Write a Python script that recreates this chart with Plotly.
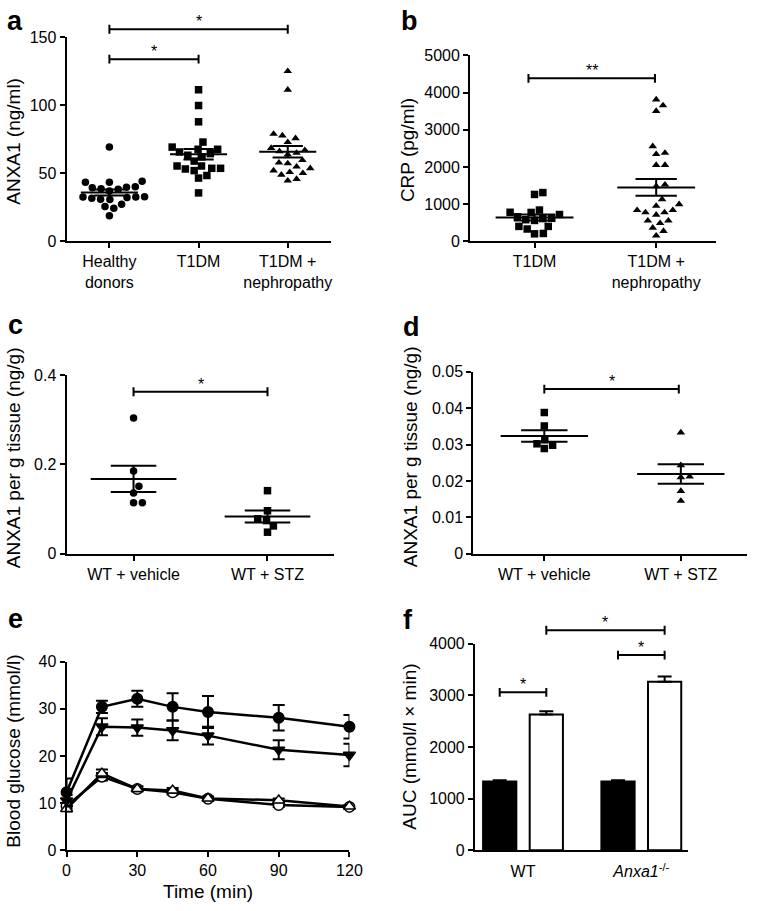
import numpy as np
import plotly.graph_objects as go

W, H = 763, 911
FONT = "Liberation Sans, Arial, Helvetica, sans-serif"

# ---------------- data ----------------
a_groups = ["Healthy<br>donors", "T1DM", "T1DM +<br>nephropathy"]
a_healthy = [69.3, 44.1, 43.4, 39.7, 38.7, 37.0, 38.3, 39.4, 40.2, 43.4, 32.5,
             31.6, 30.7, 32.2, 30.9, 32.5, 32.7, 25.5, 27.2, 24.3, 18.8]
a_t1dm = [111.5, 99.9, 87.9, 73.0, 67.7, 65.7, 64.5, 67.7, 69.3, 59.0, 62.1,
          63.3, 53.7, 52.0, 55.4, 55.4, 53.2, 53.7, 48.4, 46.5, 35.6]
a_neph = [125.2, 111.5, 79.0, 75.8, 77.8, 72.9, 68.6, 66.2, 65.0, 63.8, 67.0,
          59.7, 57.3, 53.7, 54.9, 57.8, 50.8, 48.9, 52.0, 50.1, 44.6, 45.8]

b_groups = ["T1DM", "T1DM +<br>nephropathy"]
b_t1dm = [1310, 1260, 840, 780, 720, 775, 660, 620, 580, 560, 610, 400, 330,
          400, 200, 210]
b_neph = [3812, 3654, 3503, 2553, 2342, 2376, 2051, 2051, 1478, 1523, 1127,
          995, 950, 837, 776, 837, 776, 713, 554, 486, 554, 362, 275, 150]

c_groups = ["WT + vehicle", "WT + STZ"]
c_vehicle = [0.304, 0.185, 0.151, 0.136, 0.114, 0.114]
c_stz = [0.141, 0.096, 0.078, 0.074, 0.062, 0.048]

d_groups = ["WT + vehicle", "WT + STZ"]
d_vehicle = [0.0388, 0.0351, 0.0313, 0.0302, 0.0298, 0.0289]
d_stz = [0.0333, 0.0243, 0.0212, 0.0210, 0.0172, 0.0145]

e_time = [0, 15, 30, 45, 60, 90, 120]
e_anxa1_stz = [12.3, 30.4, 32.1, 30.4, 29.3, 28.1, 26.2]
e_anxa1_stz_sem = [2.9, 1.3, 1.7, 2.9, 3.4, 2.7, 2.5]
e_wt_stz = [10.5, 26.2, 26.0, 25.4, 24.3, 21.3, 20.2]
e_wt_stz_sem = [1.2, 1.8, 1.7, 2.1, 1.9, 2.0, 2.4]
e_wt_veh = [9.4, 15.6, 13.0, 12.3, 10.9, 9.6, 9.2]
e_wt_veh_sem = [0.6, 0.8, 0.5, 0.5, 0.4, 0.4, 0.3]
e_anxa1_veh = [8.8, 16.3, 13.0, 12.7, 11.0, 10.6, 9.3]
e_anxa1_veh_sem = [0.6, 0.8, 0.5, 0.5, 0.4, 0.4, 0.3]

f_groups = ["WT", "<i>Anxa1</i><sup>-/-</sup>"]
f_vehicle = [1330, 1330]
f_vehicle_sem = [25, 25]
f_stz = [2630, 3260]
f_stz_sem = [60, 105]

# ---------------- layout geometry (pixels) ----------------
BOX = {
    1: dict(l=64, r=334, t=30, b=237.7),
    2: dict(l=476.7, r=728, t=48.3, b=237.7),
    3: dict(l=64, r=338, t=374, b=556),
    4: dict(l=480, r=760, t=370.7, b=556),
    5: dict(l=64, r=353.3, t=666, b=858.3),
    6: dict(l=481.7, r=700, t=647.7, b=858.3),
}
XR = {1: [-0.48, 2.48], 2: [-0.53, 1.49], 3: [-0.5, 1.5], 4: [-0.52, 1.485],
      5: [0, 120], 6: [-0.406, 1.398]}
YR = {1: [0, 150], 2: [0, 5000], 3: [0, 0.4], 4: [0, 0.05], 5: [0, 40], 6: [0, 4000]}
DT = {1: 50, 2: 1000, 3: 0.2, 4: 0.01, 5: 10, 6: 1000}


def px(x):
    return x / W


def py(y):
    return 1 - y / H


def ax_ids(n):
    s = "" if n == 1 else str(n)
    return "x" + s, "y" + s


def swarm(vals, center, ppx, ppy, diam):
    order = np.argsort(vals)
    placed = []
    xs = [0.0] * len(vals)
    for i in order:
        ypx = vals[i] * ppy
        off = 0.0
        for k in range(0, 400):
            cands = [0.0] if k == 0 else [k * 0.5, -k * 0.5]
            ok = None
            for c in cands:
                if all((c - qx) ** 2 + (ypx - qy) ** 2 >= diam ** 2 for qx, qy in placed):
                    ok = c
                    break
            if ok is not None:
                off = ok
                break
        placed.append((off, ypx))
        xs[i] = center + off / ppx
    return xs


fig = go.Figure()
shapes = []
annos = []


def dot_panel(n, series, symbols, size):
    xa, ya = ax_ids(n)
    b = BOX[n]
    ppx = (b["r"] - b["l"]) / (XR[n][1] - XR[n][0])
    ppy = (b["b"] - b["t"]) / (YR[n][1] - YR[n][0])
    for i, vals in enumerate(series):
        v = np.array(vals, dtype=float)
        xs = swarm(v, i, ppx, ppy, size + 1.2)
        fig.add_trace(go.Scatter(x=xs, y=vals, mode="markers", xaxis=xa, yaxis=ya,
                                 marker=dict(symbol=symbols[i], size=size, color="black"),
                                 cliponaxis=False, showlegend=False, hoverinfo="y"))
    for i, vals in enumerate(series):
        v = np.array(vals, dtype=float)
        m = v.mean()
        s = v.std(ddof=1) / np.sqrt(len(v))
        fig.add_trace(go.Scatter(
            x=[i - 0.32, i + 0.32, None, i - 0.17, i + 0.17, None, i - 0.17, i + 0.17, None, i, i],
            y=[m, m, None, m + s, m + s, None, m - s, m - s, None, m - s, m + s],
            mode="lines", line=dict(color="black", width=2), xaxis=xa, yaxis=ya,
            showlegend=False, hoverinfo="skip", cliponaxis=False))


def bracket(n, x0, x1, yval, label):
    xa, ya = ax_ids(n)
    b = BOX[n]
    hpx = b["b"] - b["t"]
    yf = yval / YR[n][1]
    tk = 4.5 / hpx
    for (ax0, ay0, ax1, ay1) in [(x0, yf, x1, yf), (x0, yf - tk, x0, yf + tk), (x1, yf - tk, x1, yf + tk)]:
        shapes.append(dict(type="line", xref=xa, yref=ya + " domain", x0=ax0, x1=ax1,
                           y0=ay0, y1=ay1, line=dict(color="black", width=2)))
    annos.append(dict(text=label, xref=xa, yref=ya + " domain", x=(x0 + x1) / 2, y=yf,
                      yanchor="bottom", xanchor="center", yshift=-3, showarrow=False,
                      font=dict(size=16, family=FONT, color="black")))


# panel a
dot_panel(1, [a_healthy, a_t1dm, a_neph], ["circle", "square", "triangle-up"], 7.5)
bracket(1, 0, 1, 134, "*")
bracket(1, 0, 2, 156, "*")
# panel b
dot_panel(2, [b_t1dm, b_neph], ["square", "triangle-up"], 7.5)
bracket(2, -0.05, 0.99, 4382, "**")
# panel c
dot_panel(3, [c_vehicle, c_stz], ["circle", "square"], 7.5)
bracket(3, 0, 1, 0.3626, "*")
# panel d
dot_panel(4, [d_vehicle, d_stz], ["square", "triangle-up"], 7.5)
bracket(4, 0, 0.985, 0.04525, "*")

# panel e
e_series = [
    (e_wt_veh, e_wt_veh_sem, "circle", "white", "WT + vehicle"),
    (e_anxa1_veh, e_anxa1_veh_sem, "triangle-up", "white", "Anxa1-/- + vehicle"),
    (e_wt_stz, e_wt_stz_sem, "triangle-down", "black", "WT + STZ"),
    (e_anxa1_stz, e_anxa1_stz_sem, "circle", "black", "Anxa1-/- + STZ"),
]
for vals, sem, sym, col, name in e_series:
    fig.add_trace(go.Scatter(
        x=e_time, y=vals, name=name, mode="lines+markers", xaxis="x5", yaxis="y5",
        line=dict(color="black", width=2.5),
        marker=dict(symbol=sym, size=10.5, color=col,
                    line=dict(color="black", width=1.5)),
        error_y=dict(type="data", array=sem, visible=True, color="black", thickness=2, width=6),
        cliponaxis=False, showlegend=False))

# panel f
fig.add_trace(go.Bar(x=f_groups, y=f_vehicle, name="Vehicle", xaxis="x6", yaxis="y6",
                     marker=dict(color="black", line=dict(color="black", width=2)),
                     error_y=dict(type="data", array=f_vehicle_sem, arrayminus=[0, 0], symmetric=False,
                                  color="black", thickness=2, width=7),
                     showlegend=False))
fig.add_trace(go.Bar(x=f_groups, y=f_stz, name="STZ", xaxis="x6", yaxis="y6",
                     marker=dict(color="white", line=dict(color="black", width=2)),
                     error_y=dict(type="data", array=f_stz_sem, arrayminus=[0, 0], symmetric=False,
                                  color="black", thickness=2, width=7),
                     showlegend=False))
BG = 0.212
off = (1 - BG) / 4
bracket(6, 0 - off, 0 + off, 3057, "*")
bracket(6, 1 - off, 1 + off, 3778, "*")
bracket(6, 0 + off, 1 + off, 4259, "*")

# ---------------- axes ----------------
layout = dict(width=W, height=H, autosize=False, margin=dict(l=0, r=0, t=0, b=0, pad=0),
              plot_bgcolor="white", paper_bgcolor="white", showlegend=False,
              font=dict(family=FONT, color="black", size=16),
              barmode="group", bargap=BG, bargroupgap=0.287)

common = dict(showline=True, linecolor="black", linewidth=2, ticks="outside", ticklen=5,
              tickwidth=2, tickcolor="black", showgrid=False, zeroline=False,
              tickfont=dict(size=16, family=FONT, color="black"))

tick_groups = {1: a_groups, 2: b_groups, 3: c_groups, 4: d_groups}
for n in range(1, 7):
    b = BOX[n]
    xa, ya = ax_ids(n)
    xk = "xaxis" + ("" if n == 1 else str(n))
    yk = "yaxis" + ("" if n == 1 else str(n))
    xd = dict(common, domain=[px(b["l"]), px(b["r"])], range=XR[n], anchor=ya)
    if n in tick_groups:
        xd.update(tickmode="array", tickvals=list(range(len(tick_groups[n]))),
                  ticktext=tick_groups[n])
    elif n == 5:
        xd.update(tickmode="linear", tick0=0, dtick=30)
    else:
        xd.update(type="category", tickcolor="rgba(0,0,0,0)", ticklen=6)
    yd = dict(common, domain=[py(b["b"]), py(b["t"])], range=YR[n], anchor=xa, dtick=DT[n], tick0=0)
    layout[xk] = xd
    layout[yk] = yd

# ---------------- titles & panel letters ----------------
ytitles = [
    ("ANXA1 (ng/ml)", 10, 135.5),
    ("CRP (pg/ml)", 412, 145),
    ("ANXA1 per g tissue (ng/g)", 10, 458),
    ("ANXA1 per g tissue (ng/g)", 416, 457),
    ("Blood glucose (mmol/l)", 10, 757),
    ("AUC (mmol/l × min)", 415, 753),
]
for t, x, y in ytitles:
    annos.append(dict(text=t, xref="paper", yref="paper", x=px(x), y=py(y), textangle=-90,
                      xanchor="center", yanchor="middle", showarrow=False,
                      font=dict(size=19, family=FONT, color="black")))
annos.append(dict(text="Time (min)", xref="paper", yref="paper", x=px(208.5), y=py(900),
                  xanchor="center", yanchor="middle", showarrow=False,
                  font=dict(size=19, family=FONT, color="black")))

letters = [("a", 1, 13.5), ("b", 404, 13.5), ("c", 2, 323.5), ("d", 406, 325.5),
           ("e", 2, 622.5), ("f", 406, 623.5)]
for t, x, y in letters:
    annos.append(dict(text="<b>%s</b>" % t, xref="paper", yref="paper", x=px(x), y=py(y),
                      xanchor="left", yanchor="middle", showarrow=False,
                      font=dict(size=27, family=FONT, color="black")))

layout["shapes"] = shapes
layout["annotations"] = annos
fig.update_layout(**layout)
fig.write_html("out.html", config={"displayModeBar": False},
               post_script="document.body.style.margin='0';document.body.style.overflow='hidden';")
